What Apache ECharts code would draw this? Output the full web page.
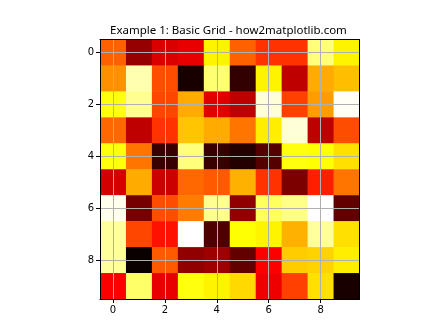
<!DOCTYPE html>
<html><head><meta charset="utf-8">
<script src="https://cdn.jsdelivr.net/npm/echarts@6/dist/echarts.min.js"></script>
<style>html,body{margin:0;padding:0;background:#fff}#c{width:448px;height:336px}</style>
</head><body><div id="c"></div>
<script>
const rows = [0,1,2,3,4,5,6,7,8,9];
const cols = [0,1,2,3,4,5,6,7,8,9];
const xTicks = [0,2,4,6,8];
const yTicks = [0,2,4,6,8];
const row0 = [0.51,0.21,0.31,0.33,0.73,0.51,0.44,0.44,0.87,0.73];
const row1 = [0.58,0.92,0.48,0.02,0.86,0.06,0.73,0.27,0.62,0.65];
const row2 = [0.76,0.89,0.47,0.62,0.32,0.27,0.96,0.46,0.60,0.99];
const row3 = [0.52,0.27,0.44,0.66,0.62,0.54,0.72,0.96,0.27,0.48];
const row4 = [0.76,0.54,0.07,0.87,0.07,0.04,0.11,0.76,0.75,0.70];
const row5 = [0.30,0.62,0.29,0.52,0.50,0.63,0.44,0.17,0.41,0.54];
const row6 = [0.98,0.16,0.48,0.55,0.89,0.20,0.84,0.88,1.00,0.13];
const row7 = [0.90,0.47,0.39,1.00,0.10,0.75,0.73,0.63,0.90,0.70];
const row8 = [0.90,0.00,0.50,0.20,0.22,0.13,0.36,0.67,0.68,0.72];
const row9 = [0.36,0.85,0.33,0.76,0.73,0.69,0.34,0.46,0.70,0.02];
const values = [row0,row1,row2,row3,row4,row5,row6,row7,row8,row9];

function hot(t){
  const r = Math.min(1, 0.0416 + (1-0.0416)*t/0.365079);
  const g = Math.max(0, Math.min(1, (t-0.365079)/(0.746032-0.365079)));
  const b = Math.max(0, Math.min(1, (t-0.746032)/(1-0.746032)));
  const h = v => Math.round(v*255).toString(16).padStart(2,'0');
  return '#'+h(r)+h(g)+h(b);
}
const hotColors = [];
for (let i=0;i<=100;i++) hotColors.push(hot(i/100));

const data = [];
rows.forEach(r => cols.forEach(c => data.push([c, r, values[r][c]])));

const chart = echarts.init(document.getElementById('c'), null, {renderer:'canvas'});
const axisCommon = {
  type:'value', min:-0.5, max:9.5,
  axisLine:{show:true, onZero:false, lineStyle:{color:'#000', width:1}},
  axisTick:{show:true, length:4, lineStyle:{color:'#000'}},
  axisLabel:{color:'#000', fontSize:10, fontFamily:'DejaVu Sans', margin:6},
  splitLine:{show:true, lineStyle:{color:'#b0b0b0', width:1}},
  z:10
};
const frameAxis = {
  type:'value', min:-0.5, max:9.5,
  axisLine:{show:true, onZero:false, lineStyle:{color:'#000', width:1}},
  axisTick:{show:false}, axisLabel:{show:false}, splitLine:{show:false}, z:11
};
chart.setOption({
  animation:false,
  title:{text:'Example 1: Basic Grid - how2matplotlib.com', left:105, top:20,
    textStyle:{fontSize:11.5, fontWeight:'normal', color:'#000', fontFamily:'Noto Sans'}},
  grid:{left:100, top:39.5, width:259.5, height:259.5, containLabel:false},
  xAxis: [Object.assign({}, axisCommon, {
    axisTick: Object.assign({}, axisCommon.axisTick, {customValues:xTicks}),
    axisLabel: Object.assign({}, axisCommon.axisLabel, {customValues:xTicks}),
    position:'bottom'
  }), Object.assign({}, frameAxis, {position:'top'})],
  yAxis: [Object.assign({}, axisCommon, {
    inverse:true,
    axisTick: Object.assign({}, axisCommon.axisTick, {customValues:yTicks}),
    axisLabel: Object.assign({}, axisCommon.axisLabel, {customValues:yTicks}),
    position:'left'
  }), Object.assign({}, frameAxis, {position:'right', inverse:true})],
  visualMap:{show:false, min:0, max:1, dimension:2, inRange:{color:hotColors}},
  series:[{
    type:'custom',
    data:data,
    encode:{x:0, y:1},
    renderItem:function(params, api){
      const p = api.coord([api.value(0), api.value(1)]);
      const s = api.size([1,1]);
      return {type:'rect', shape:{x:p[0]-s[0]/2, y:p[1]-s[1]/2, width:s[0]+0.5, height:s[1]+0.5},
        style:{fill:api.visual('color')}};
    }
  }]
});
</script></body></html>
